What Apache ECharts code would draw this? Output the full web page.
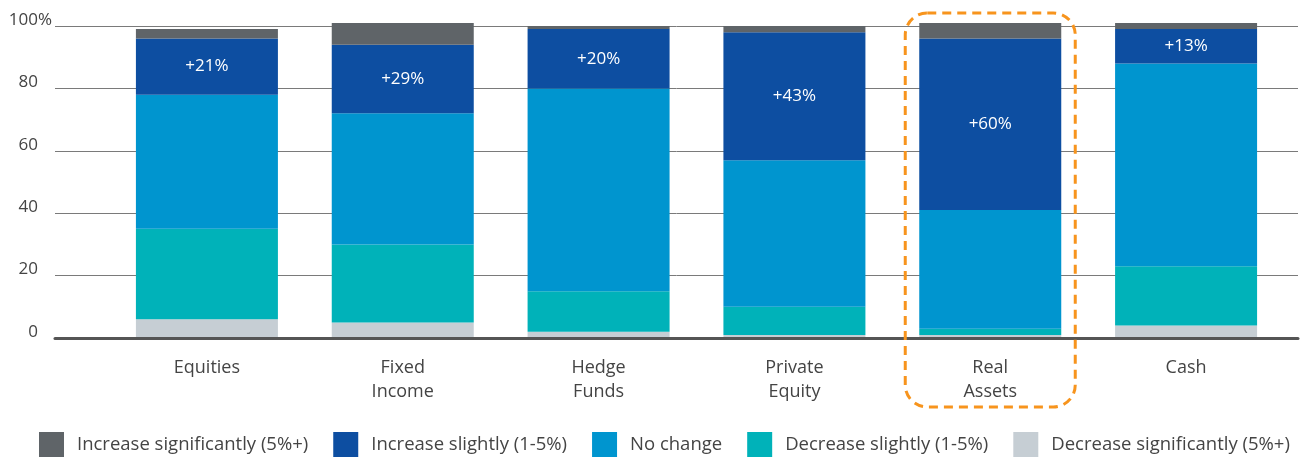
<!DOCTYPE html>
<html>
<head>
<meta charset="utf-8">
<script src="https://cdn.jsdelivr.net/npm/echarts@6/dist/echarts.min.js"></script>
<style>
html,body{margin:0;padding:0;background:#fff;}
#chart{width:1304px;height:461px;}
</style>
</head>
<body>
<div id="chart"></div>
<script>
const categories = ['Equities', 'Fixed\nIncome', 'Hedge\nFunds', 'Private\nEquity', 'Real\nAssets', 'Cash'];
const decreaseSignificantly = [6, 5, 2, 1, 1, 4];
const decreaseSlightly = [29, 25, 13, 9, 2, 19];
const noChange = [43, 42, 65, 47, 38, 65];
const increaseSlightly = [18, 22, 19, 41, 55, 11];
const increaseSignificantly = [3, 7, 1, 2, 5, 2];
const yTicks = [0, 20, 40, 60, 80, 100];
const highlightCategory = 'Real\nAssets';

const FONT = 'Open Sans';
const colors = {
  incSig: '#5f6468',
  incSlight: '#0d4ea1',
  noChange: '#0095cf',
  decSlight: '#00b2b9',
  decSig: '#c6ced4'
};

const chart = echarts.init(document.getElementById('chart'), null, {renderer: 'canvas'});

function bar(name, data, color, extra) {
  return Object.assign({
    name: name,
    type: 'bar',
    stack: 'total',
    data: data,
    barWidth: 142,
    clip: false,
    itemStyle: {color: color},
    emphasis: {disabled: true},
    xAxisIndex: 0,
    yAxisIndex: 0
  }, extra || {});
}

const option = {
  animation: false,
  textStyle: {fontFamily: FONT},
  grid: [
    {left: 109, right: 20, top: 26, bottom: 123},
    {left: 55, right: 6, top: 26, bottom: 123}
  ],
  legend: {
    left: 39,
    top: 432,
    padding: 0,
    width: 1300,
    icon: 'rect',
    itemWidth: 25,
    itemHeight: 25,
    itemGap: 25,
    textStyle: {fontFamily: FONT, fontSize: 18.5, color: '#444', padding: [7, 0, 0, 8]},
    data: ['Increase significantly (5%+)', 'Increase slightly (1-5%)', 'No change', 'Decrease slightly (1-5%)', 'Decrease significantly (5%+)']
  },
  xAxis: [
    {
      type: 'category',
      gridIndex: 0,
      data: categories,
      axisLine: {show: false},
      axisTick: {show: false},
      axisLabel: {interval: 0, color: '#444', fontFamily: FONT, fontSize: 18, lineHeight: 24, margin: 18}
    },
    {
      type: 'value',
      gridIndex: 1,
      min: 0, max: 1,
      z: 10,
      axisLine: {show: true, lineStyle: {color: '#555', width: 3}},
      axisTick: {show: false},
      axisLabel: {show: false},
      splitLine: {show: false}
    }
  ],
  yAxis: [
    {type: 'value', gridIndex: 0, min: 0, max: 100, interval: 20, show: false},
    {
      type: 'value', gridIndex: 1, min: yTicks[0], max: yTicks[yTicks.length - 1], interval: 20,
      axisLine: {show: false},
      axisTick: {show: false},
      splitLine: {show: true, lineStyle: {color: '#7a7a7a', width: 1}},
      axisLabel: {
        color: '#444', fontFamily: FONT, fontSize: 17, margin: 3, align: 'right',
        verticalAlign: 'middle', padding: [0, 0, 12, 0],
        formatter: function (v) { return v === 100 ? v + '%' : v + '{s|%}'; },
        rich: {s: {color: 'rgba(0,0,0,0)', fontFamily: FONT, fontSize: 17}}
      }
    }
  ],
  series: [
    bar('Decrease significantly (5%+)', decreaseSignificantly, colors.decSig),
    bar('Decrease slightly (1-5%)', decreaseSlightly, colors.decSlight),
    bar('No change', noChange, colors.noChange),
    bar('Increase slightly (1-5%)', increaseSlightly, colors.incSlight, {
      label: {
        show: true, position: 'inside', color: '#fff', fontFamily: FONT, fontSize: 17,
        formatter: function (p) {
          return '+' + (increaseSlightly[p.dataIndex] + increaseSignificantly[p.dataIndex]) + '%';
        }
      }
    }),
    bar('Increase significantly (5%+)', increaseSignificantly, colors.incSig)
  ]
};

chart.setOption(option);

const cx = chart.convertToPixel({xAxisIndex: 0}, highlightCategory);
chart.setOption({
  graphic: [{
    type: 'rect',
    z: 100,
    shape: {x: cx - 85, y: 13, width: 170, height: 394, r: 22},
    style: {fill: 'none', stroke: '#f7941d', lineWidth: 3, lineDash: [9, 6]}
  }]
});
</script>
</body>
</html>
